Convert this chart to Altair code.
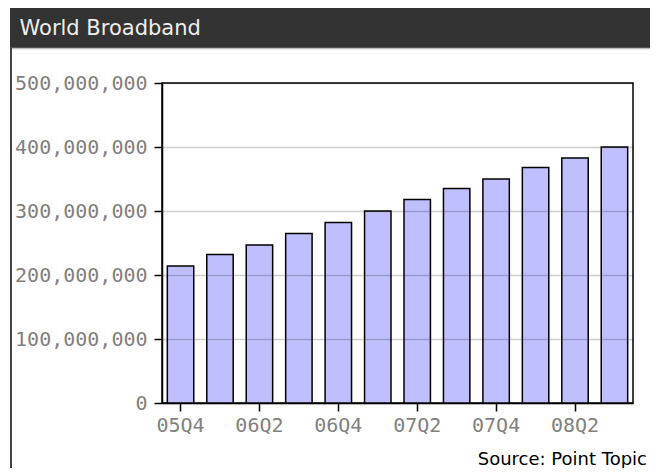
import altair as alt
import pandas as pd

# ---- data ----
quarters = ["05Q4", "06Q1", "06Q2", "06Q3", "06Q4", "07Q1",
            "07Q2", "07Q3", "07Q4", "08Q1", "08Q2", "08Q3"]
subscribers = [214e6, 232e6, 247e6, 265e6, 282e6, 300e6,
               318e6, 335e6, 350e6, 368e6, 383e6, 400e6]
label_quarters = quarters[::2]
y_ticks = [0, 100e6, 200e6, 300e6, 400e6, 500e6]
chart_title = "World Broadband"
source_note = "Source: Point Topic"

df = pd.DataFrame({"quarter": quarters, "subs": subscribers})
one = pd.DataFrame({"k": [0]})

W, H = 471, 320
PAD = {"left": 154, "top": 75, "right": 17, "bottom": 65}
MONO = "DejaVu Sans Mono"
SANS = "DejaVu Sans"

bars = alt.Chart(df).mark_bar(
    fill="#bfbfff", stroke="black", strokeWidth=1.5
).encode(
    x=alt.X("quarter:N", sort=quarters,
            scale=alt.Scale(paddingInner=0.33, paddingOuter=0.135),
            axis=alt.Axis(values=label_quarters, labelAngle=0, title=None,
                          tickSize=8, tickColor="black", tickWidth=1.5,
                          domainColor="black", domainWidth=1.5,
                          labelFont=MONO, labelFontSize=20, labelColor="#808080",
                          labelPadding=4, grid=False)),
    y=alt.Y("subs:Q", scale=alt.Scale(domain=[0, 500e6], nice=False),
            axis=alt.Axis(values=y_ticks, format=",d", title=None,
                          tickSize=8, tickColor="black", tickWidth=1.5,
                          domainColor="black", domainWidth=1.5,
                          labelFont=MONO, labelFontSize=20, labelColor="#808080",
                          labelPadding=7, grid=True, gridColor="black",
                          gridOpacity=0.2, gridWidth=1.5, zindex=1)),
)

title_bar = alt.Chart(one).mark_rect(color="#333333").encode(
    x=alt.value(-152), x2=alt.value(W + PAD["right"]),
    y=alt.value(-PAD["top"]), y2=alt.value(-35),
)
title_edge = alt.Chart(one).mark_rule(color="#bbbbbb", strokeWidth=1.5).encode(
    x=alt.value(-152), x2=alt.value(W + PAD["right"]),
    y=alt.value(-34.5),
)
left_frame = alt.Chart(one).mark_rule(color="#444444", strokeWidth=2).encode(
    x=alt.value(-151), y=alt.value(-35), y2=alt.value(H + PAD["bottom"]),
)
title_text = alt.Chart(one).mark_text(
    text=chart_title, font=SANS, fontSize=21, color="#eeeeee",
    align="left", baseline="alphabetic",
).encode(x=alt.value(-142.5), y=alt.value(-48))
source_text = alt.Chart(one).mark_text(
    text=source_note, font=SANS, fontSize=18, color="black",
    align="right", baseline="alphabetic",
).encode(x=alt.value(W + PAD["right"] - 3), y=alt.value(382))

chart = alt.layer(
    title_bar, title_edge, left_frame, bars, title_text, source_text
).properties(
    width=W, height=H,
    autosize=alt.AutoSizeParams(type="none"),
    padding=PAD,
    background="white",
).configure_view(stroke="black", strokeWidth=1.5)

chart.save("out.html", embed_options={"renderer": "svg", "actions": False})
